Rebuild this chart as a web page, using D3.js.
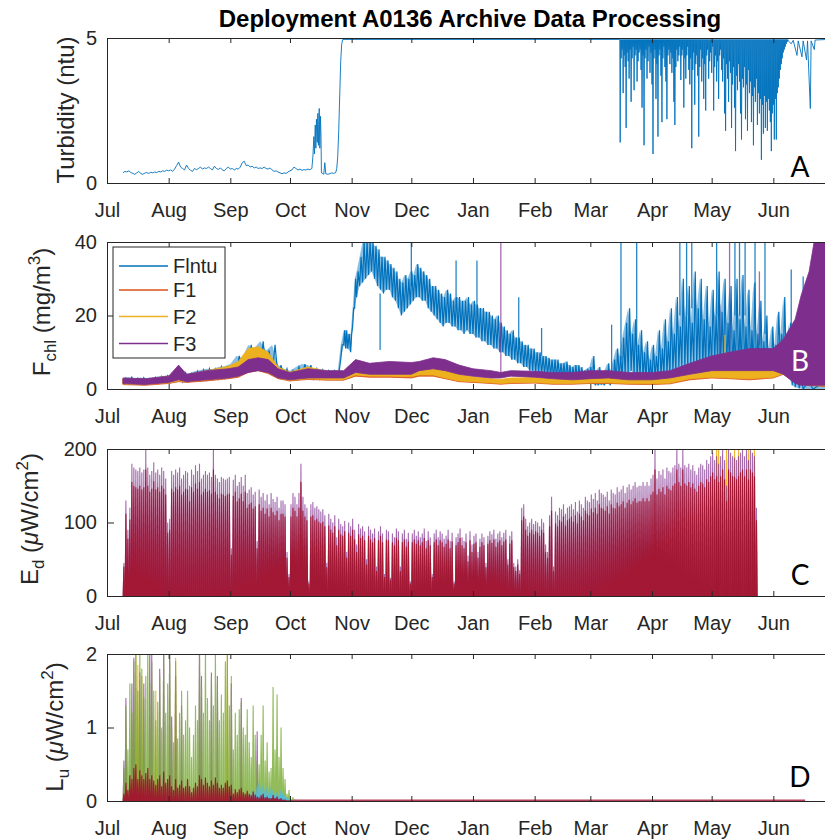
<!DOCTYPE html>
<html>
<head>
<meta charset="utf-8">
<script src="https://cdn.jsdelivr.net/npm/d3@7"></script>
<style>
  body { margin: 0; background: #fff; }
  svg { display: block; font-family: "Liberation Sans", Arial, sans-serif; }
</style>
</head>
<body>
<svg id="chart" width="825" height="840"></svg>
<script>
// Deployment A0136 — 4 stacked time panels, Jul 2016 .. Jul 2017
// all series are in "days since 1 Jul 2016"

// ---- A: turbidity (ntu) ----
const turbEarlyStart = 8;   // daily values, 9 Jul ..
const turbEarly = [
  0.35,0.4,0.38,0.42,0.36,0.33,0.3,0.35,0.4,0.32,
  0.3,0.34,0.36,0.33,0.37,0.35,0.38,0.36,0.4,0.38,
  0.42,0.4,0.44,0.42,0.45,0.4,0.48,0.6,0.72,0.55,
  0.5,0.45,0.62,0.5,0.44,0.4,0.5,0.46,0.5,0.55,
  0.48,0.52,0.5,0.55,0.5,0.45,0.58,0.5,0.47,0.52,
  0.45,0.42,0.5,0.55,0.48,0.5,0.45,0.5,0.48,0.55,
  0.7,0.75,0.6,0.62,0.55,0.58,0.52,0.55,0.5,0.52,
  0.5,0.55,0.5,0.48,0.52,0.45,0.4,0.42,0.38,0.35,
  0.32,0.35,0.33,0.38,0.42,0.45,0.55,0.5,0.45,0.48,
  0.44,0.46,0.45,0.48,0.46,0.5
];
const turbSpike = [[103.5,0.9],[104,1.6],[104.3,1.0],[104.7,2.0],[105,1.2],[105.3,2.2],[105.7,1.4],
  [106,2.4],[106.3,1.3],[106.7,2.57],[107,1.2],[107.3,2.3],[107.6,1.6],[107.8,0.35]];
const turbRise = [[108,0.35],[109,0.3],[109.5,0.7],[110,0.32],[111,0.3],[112,0.32],[113,0.35],[114,0.33],
  [115,0.36],[115.5,0.5],[116,0.9],[116.5,1.8],[117,3.0],[117.5,4.2],[118,4.8],[118.5,4.95],[257.8,4.95]];
const turbSat = 4.95;          // sensor saturation level between dips
const turbDipStart = 258;      // dips every half day
const turbDips = [
  1.4,4.3,4.6,3.1,4.4,4.0,1.9,4.5,4.2,3.6,
  4.6,2.8,4.3,4.7,3.2,4.4,4.6,3.5,4.2,4.5,
  4.6,3.9,2.6,4.4,1.3,4.3,4.6,3.6,4.2,4.7,
  3.8,4.5,3.4,1.0,4.3,4.6,2.9,4.1,1.6,4.4,
  4.6,3.7,2.1,4.3,4.7,4.0,3.5,2.2,4.4,4.6,
  4.1,4.5,3.8,4.3,2.8,2.0,4.0,4.6,4.2,4.4,
  4.7,3.55,4.4,4.6,2.6,4.3,3.6,4.4,4.7,3.9,
  3.4,4.3,1.2,3.9,4.5,2.7,4.1,4.4,3.7,1.6,
  4.0,4.6,3.5,4.3,2.9,4.1,2.5,4.4,4.6,3.6,
  4.2,4.5,3.8,4.7,2.5,4.0,4.4,3.5,4.2,2.9,
  4.4,4.6,3.9,3.5,4.3,2.4,1.8,4.1,3.6,2.8,
  4.2,3.8,1.9,3.4,4.0,2.6,1.1,3.7,3.2,4.1,
  3.5,2.4,1.5,3.6,3.3,4.0,2.2,3.4,1.8,3.9,
  3.1,3.5,2.1,3.0,1.3,3.3,2.8,3.6,2.0,3.1,
  2.4,2.9,0.8,2.7,1.7,3.0,1.9,2.8,1.8,2.9,
  2.5,2.1,1.1,2.4,2.7,1.5,2.9,1.5,3.1,3.3,
  3.6,3.9,4.1,4.3,4.5,4.6,4.7,4.8,4.87
];
const turbTail = [[342.5,4.9],[344,4.8],[345,4.92],[346.9,4.4],[347.5,4.9],[349.4,4.35],[350,4.9],
  [351.7,4.24],[352.2,4.9],[353.6,2.57],[354,4.9],[355.6,4.6],[356,4.93],[362,4.95]];

// ---- B: chlorophyll fluorescence (mg/m3), rows [day, low, high] of the noisy trace ----
const flntuBand = [[8,1.5,3],[11,1.4,3.2],[14,1.5,2.9],[17,1.3,3.1],[20,1.4,2.8],[23,1.5,3.2],[26,1.6,3.4],
  [29,1.7,3.6],[32,1.8,3.9],[35,2.2,5.5],[38,2,4.4],[41,2.1,4.2],[44,2.3,4.8],[47,2.4,5.2],[50,2.5,5.5],
  [53,2.7,5.4],[56,2.8,6],[59,3,6.2],[62,3,6.8],[65,3.5,9],[68,4,8.5],[71,5,12],[74,5.5,11],[77,5.5,13],
  [80,4.5,10.5],[83,4,12],[86,3,6.5],[89,2.5,5.5],[92,2.5,5],[95,2.8,6],[98,3,6.8],[101,3,6.5],
  [104,2.8,5.5],[107,2.8,5.2],[110,2.8,5],[113,2.8,5],[116,2.8,5],[117.5,8,12],[119,12,16],[120,11,16],
  [121,11,15],[122.5,10,15],[123.5,17,22],[124.5,22,30],[125.5,25,32],[127,28,36],[128.5,29,40],
  [130,30,40],[131.5,31,40],[133,32,40],[134.5,30,39],[136,28,38],[137.5,27,36],[139,26,36],
  [140.5,27,35],[142,27,34],[143.5,25,33],[145,24,32],[146.5,22,30],[148,20,29],[149.5,21,31],
  [151,22,30],[152.5,23,32],[154,24,31],[155.5,25,34],[157,25,33],[158.5,24,32],[160,24,31],
  [161.5,22,30],[163,21,28],[164.5,20,28],[166,19,27],[167.5,18,26],[169,17,25],[170.5,18,27],
  [172,18,26],[173.5,17,24],[175,17,25],[176.5,16,25],[178,16,24],[179.5,15,24],[181,16,25],
  [182.5,15,23],[184,15,24],[185.5,14,23],[187,14,22],[188.5,13,22],[190,13,21],[191.5,12,21],
  [193,12,20],[194.5,11,19],[196,11,20],[197.5,10,18],[199,10,17],[200.5,9,16],[202,9,15],
  [203.5,8,16],[205,8,14],[206.5,7,14],[208,7,13],[209.5,6,12],[211,6,12],[212.5,5,11],[214,5,11],
  [215.5,4.5,10],[217,4.5,10],[218.5,4,9],[220,4,9],[221.5,3.5,8.5],[223,3.5,8],[224.5,3,8],
  [226,3,8],[227.5,3,7],[229,3,7],[230.5,2.5,7.5],[232,2.5,6.5],[233.5,2.5,6],[235,2.5,6.5],
  [236.5,2,6.5],[238,2,6],[239.5,2,5],[241,2,5.5],[242.5,1.5,6],[244,1.5,9],[245.5,1,4.5],[247,1,6],
  [248.5,1.2,4],[250,1,5],[251.5,1.5,7],[253,1,5],[254.5,2,8],[256,2,11],[257.5,3,9],[259,3,14],
  [260.5,4,18],[262,4,22],[263.5,5,15],[265,4,19],[266.5,3,12],[268,3,16],[269.5,2.5,10],[271,2.5,13],
  [272.5,2,8],[274,2,12],[275.5,3,9],[277,3,16],[278.5,3.5,11],[280,3.5,19],[281.5,4,13],[283,4,22],
  [284.5,5,15],[286,5,25],[287.5,6,17],[289,6,30],[290.5,6,20],[292,6,28],[293.5,7,18],[295,7,32],
  [296.5,6,22],[298,6,30],[299.5,5,19],[301,5,28],[302.5,6,17],[304,6,27],[305.5,7,20],[307,7,32],
  [308.5,6,21],[310,6,30],[311.5,5,18],[313,5,28],[314.5,5,16],[316,5,30],[317.5,4,19],[319,4,31],
  [320.5,4,17],[322,4,27],[323.5,5,16],[325,5,29],[326.5,4,15],[328,4,24],[329.5,3,13],[331,3,20],
  [332.5,4,11],[334,4,17],[335.5,5,12],[337,6,21],[338.5,8,15],[340,7,25],[341.5,5,14],[343,3,18],
  [344.5,1,8],[346,0.5,6],[348,0.2,3],[350,0,2],[355,0,1.5],[364,0,1]];
const flntuSpikes = [[137.3,26,10.6],[153,28,40],[175.5,22,35],[186,20,35],[207,12,25],[218.5,9,16.6],
  [253.7,4,17.5],[258.4,8,40],[266.3,10,40],[288,20,40],[291.4,20,40],[294,22,40],[306.5,20,40],
  [315.7,20,40],[318,20,40],[320.8,20,40],[325.8,20,40],[330.8,15,40],[344,10,32.5],[350,2,30.6]];
const f1Band = [[8,1.2,2.6],[19,1.0,2.4],[31,1.5,3.2],[36,2,5],[40,1.8,3.5],[50,2.2,4.6],[61,2.8,5.5],
  [66,3.2,6.5],[71,4.5,9.5],[76,5,10],[81,4.2,9],[86,2.8,5.5],[92,2.2,4.2],[101,2.6,5.5],[111,2.4,4.4],
  [119,2.4,4.4],[125,3.5,7],[132,3.2,6],[142,3.2,6.2],[153,3.0,5.8],[157,3.5,6.2],[164,3.5,5.8],
  [170,2.8,4.8],[177,2.0,3.6],[184,1.8,3.0],[193,1.5,2.5],[198,1.3,2.3],[203,1.5,2.8],[215,1.6,2.8],
  [224,1.3,2.4],[234,1.3,2.5],[243,1.5,3.2],[252,1.5,3.0],[262,1.3,2.6],[274,1.2,2.4],[283,1.4,2.8],
  [293,2.5,5.5],[304,3.0,6],[313,2.8,5.5],[323,2.5,5.5],[335,3.0,6.5],[340,4,7],[346,2,4],[352,1,2.5],
  [364,0.6,1.8]];
const f2Band = [[8,1.4,2.8],[19,1.2,2.6],[31,1.7,3.5],[36,2.2,5.5],[40,2,3.8],[50,2.5,5],[61,3,6.2],
  [66,3.5,7.5],[71,5,11],[76,5.5,11.5],[81,4.5,10],[86,3,6],[92,2.4,4.6],[101,2.8,6],[111,2.6,4.8],
  [119,2.6,4.8],[125,3.8,7.8],[132,3.5,6.5],[142,3.5,6.8],[153,3.3,6.2],[157,3.8,6.6],[164,3.8,6.2],
  [170,3.0,5.2],[177,2.2,4.0],[184,2.0,3.3],[193,1.7,2.8],[198,1.5,2.6],[203,1.7,3.0],[215,1.8,3.1],
  [224,1.5,2.7],[234,1.5,2.8],[243,1.7,3.6],[252,1.7,3.3],[262,1.5,2.9],[274,1.4,2.7],[283,1.6,3.1],
  [293,2.8,6],[304,3.2,6.5],[313,3.0,6.0],[323,2.8,6.0],[335,3.2,7],[340,4.2,7.5],[346,2.2,4.5],
  [352,1.2,2.8],[364,0.8,2.0]];
const f2Spikes = [[310.7,6,14.7]];
const f3Band = [[8,1.5,3],[19,1.2,2.8],[31,1.8,3.5],[36,2.5,6.5],[40,2,4],[50,2.5,5],[61,3,5.5],[66,3.5,6],
  [71,4.5,8],[76,5,8.5],[81,4.5,8],[86,3,5.5],[92,2.5,4.5],[101,3,5.5],[111,3,5],[119,3,5],[125,4.5,8],
  [132,4,7],[142,4,7.5],[153,4,7.2],[157,5,7.5],[164,5.5,8.5],[170,5,8],[177,4,6.5],[184,3.5,5.5],
  [193,3,5],[198,3,4.5],[203,3.5,5],[215,3.2,4.8],[224,2.8,4.5],[234,2.5,4.5],[243,2.8,5],[252,3,5],
  [262,2.5,4.5],[274,2.5,4.5],[283,3,5],[293,4,7],[304,5,9],[313,5,10],[323,5,11],[335,5,11],
  [340,4,13.5],[346,1.5,19],[349,1,25.5],[353,1,32],[355.5,1,40],[364,1,40]];
const f3Spikes = [[198,4,40],[308,9,23],[313,10,40],[328,12,32]];

// ---- C: downwelling irradiance Ed, daily peaks from 9 Jul ----
const edStart = 8;
const edTop = [
  45,130,90,120,180,175,172,170,175,168,
  172,200,175,165,170,182,168,172,165,175,
  170,160,100,105,170,165,172,168,175,160,
  165,170,168,150,172,165,178,170,180,160,
  165,170,165,168,162,200,165,160,155,162,
  160,158,160,162,65,158,165,150,155,162,
  150,165,140,145,148,138,142,75,145,135,
  140,130,138,125,140,132,128,135,120,130,
  130,125,60,30,125,140,135,125,140,180,
  135,125,120,20,125,128,120,122,118,115,
  118,110,45,112,105,100,110,80,105,98,
  95,102,60,100,95,105,90,70,98,92,
  95,88,50,95,90,85,92,40,88,95,
  85,30,90,88,25,85,80,92,88,40,
  85,90,78,86,20,85,90,82,88,80,
  85,92,75,88,80,30,85,90,80,88,
  85,78,82,90,75,86,20,80,85,92,
  80,75,85,55,88,70,82,85,60,78,
  85,80,45,82,88,84,90,78,85,88,
  80,86,90,50,82,88,45,40,50,35,
  120,125,105,95,100,105,98,102,100,95,
  105,100,70,60,110,135,40,115,110,120,
  118,125,112,120,122,125,118,128,115,130,
  125,120,135,130,128,138,132,140,130,145,
  140,138,135,142,130,145,140,138,148,142,
  145,150,140,148,152,145,150,155,148,150,
  150,155,150,155,150,160,165,200,160,170,
  165,172,160,175,170,168,175,178,200,180,
  175,200,178,175,180,172,178,170,165,175,
  180,178,172,185,180,190,195,185,190,180,
  190,200,185,150,200,195,190,188,185,190,
  195,200,190,200,185,200,195,190,120
];
const edRed = [
  40,112,78,104,155,150,148,146,150,145,
  148,172,150,142,146,156,145,148,142,150,
  146,138,86,90,146,142,148,145,150,138,
  142,146,145,129,148,142,153,146,155,138,
  142,146,142,144,139,172,142,138,133,139,
  138,136,138,139,56,136,142,129,133,139,
  129,142,120,125,127,119,122,65,125,116,
  120,112,119,108,120,114,110,116,103,112,
  112,108,52,26,108,120,116,108,120,155,
  116,108,103,17,108,110,103,105,101,99,
  101,95,39,96,90,86,95,69,90,84,
  82,88,52,86,82,90,77,60,84,79,
  82,76,43,82,77,73,79,34,76,82,
  73,26,77,76,22,73,69,79,76,34,
  73,77,67,74,17,73,77,71,76,69,
  73,79,65,76,69,26,73,77,69,76,
  73,67,71,77,65,74,17,69,73,79,
  69,65,73,47,76,60,71,73,52,67,
  73,69,39,71,76,72,77,67,73,76,
  69,74,77,43,71,76,39,34,43,30,
  103,108,90,82,86,90,84,88,86,82,
  90,86,60,52,95,116,34,99,95,103,
  101,108,96,103,105,108,101,110,99,112,
  108,103,116,112,110,119,114,120,112,125,
  120,119,116,122,112,125,120,119,127,122,
  125,129,120,127,131,125,129,133,127,129,
  129,133,129,133,129,138,142,172,138,146,
  142,148,138,150,146,144,150,153,172,155,
  150,172,153,150,155,148,153,146,142,150,
  155,153,148,159,155,163,168,159,163,155,
  163,172,159,129,172,168,163,162,159,163,
  168,172,163,172,159,172,168,163,103
];
const edYellow = [[306,215],[307,212],[311,210],[315,215],[317,212],[322,215],[325,210]];

// ---- D: upwelling radiance Lu, daily peaks from 9 Jul ----
const luStart = 8;
const luGreen = [
  0.45,1.3,0.7,1.6,1.2,1.9,2.1,1.5,2.1,1.8,
  1.4,1.7,2.1,1.6,1.9,1.5,1.1,1.35,1.7,1.0,
  2.1,1.2,1.6,2.1,1.0,0.8,1.9,0.85,1.2,1.5,
  0.9,1.1,1.5,1.0,0.6,0.9,1.3,1.1,2.1,1.6,
  1.2,2.1,1.4,1.1,1.7,1.3,2.1,1.6,1.1,1.45,
  1.2,1.9,2.0,1.3,1.7,0.7,1.2,0.9,1.25,1.35,
  1.0,0.9,1.25,0.8,0.6,1.3,0.9,0.55,0.5,0.9,
  1.3,0.55,0.8,0.4,0.45,1.55,0.7,1.45,0.6,1.0,
  0.45,0.3,0.1,0.15,0.03,0.05,0.02
];
const luRed = [
  0.1,0.25,0.15,0.35,0.3,0.45,0.5,0.3,0.42,0.35,
  0.3,0.38,0.45,0.3,0.35,0.28,0.22,0.3,0.35,0.2,
  0.4,0.25,0.3,0.35,0.2,0.15,0.3,0.18,0.22,0.28,
  0.18,0.2,0.3,0.2,0.12,0.18,0.25,0.2,0.35,0.3,
  0.22,0.32,0.25,0.2,0.28,0.22,0.32,0.25,0.18,0.22,
  0.18,0.25,0.28,0.2,0.22,0.1,0.16,0.12,0.16,0.18,
  0.12,0.1,0.14,0.1,0.08,0.13,0.09,0.06,0.05,0.08,
  0.1,0.05,0.06,0.04,0.04,0.08,0.04,0.06,0.03,0.04,
  0.02,0.02,0.01,0.01,0.01,0.01,0.01
];
const luPurple = [[8,0.55],[9,1.4],[12,1.6],[13,1.95],[16,1.75],[18,1.6],[21,2.1],[22,2.0],[26,1.8],
  [28,2.1],[31,2.1],[32,1.15],[34,1.7],[37,1.3],[46,2.1],[47,1.7],[52,1.75],[55,1.7],[62,1.6],
  [67,1.4],[75,0.95]];
const luYellow = [[14,2.1],[15,1.85],[17,1.7],[24,1.5],[34,1.95],[60,2.05]];
const luCyanStart = 72;
const luCyan = [0.1,0.15,0.12,0.2,0.25,0.18,0.22,0.15,0.2,0.12,0.18,0.15,0.1,0.12,0.08,0.15,0.12,0.08,0.05,0.03,0.02];
const luFlat = [[94,0.01],[351,0.01]];

const monthFmt = d3.utcFormat("%b");
const C = { blue: "#0072BD", orange: "#D95319", yellow: "#EDB120", purple: "#7E2F8E",
            green: "#77AC30", cyan: "#4DBEEE", red: "#A2142F", axis: "#262626" };

// ---------------------------------------------------------------
const T0 = Date.UTC(2016, 6, 1);
const at = d => new Date(T0 + d * 864e5);
const xEnd = new Date(Date.UTC(2017, 6, 1));
const x = d3.scaleUtc().domain([at(0), xEnd]).range([107, 833]);
const svg = d3.select("#chart");

const panels = [
  { top: 38,  bottom: 183, max: 5,   ticks: [0, 5] },
  { top: 242, bottom: 389, max: 40,  ticks: [0, 20, 40] },
  { top: 449, bottom: 596, max: 200, ticks: [0, 100, 200] },
  { top: 654, bottom: 801, max: 2,   ticks: [0, 1, 2] }
];
panels.forEach((p, i) => {
  p.y = d3.scaleLinear().domain([0, p.max]).range([p.bottom, p.top]);
  svg.append("clipPath").attr("id", "clip" + i).append("rect")
    .attr("x", 107).attr("y", p.top).attr("width", 726).attr("height", p.bottom - p.top);
  p.g = svg.append("g").attr("clip-path", `url(#clip${i})`);
});

// ---- A ----
{
  const p = panels[0];
  const pts = turbEarly.map((v, i) => [turbEarlyStart + i, v])
    .concat(turbSpike, turbRise);
  turbDips.forEach((v, i) => {
    pts.push([turbDipStart + i * 0.5, v]);
    pts.push([turbDipStart + i * 0.5 + 0.25, turbSat]);
  });
  pts.push(...turbTail);
  p.g.append("path")
    .attr("d", d3.line().x(d => x(at(d[0]))).y(d => p.y(d[1]))(pts))
    .attr("fill", "none").attr("stroke", C.blue).attr("stroke-width", 0.9)
    .attr("stroke-linejoin", "round");
}

// ---- B ----
{
  const p = panels[1];
  const area = d3.area().x(d => x(at(d[0]))).y0(d => p.y(d[1])).y1(d => p.y(d[2]));
  const band = (rows, col) => p.g.append("path").attr("d", area(rows))
    .attr("fill", col).attr("stroke", col).attr("stroke-width", 0.8);
  // noisy trace: low at each row, high half way to the next row
  const noisy = (rows, col) => {
    p.g.append("path").attr("d", area(rows)).attr("fill", col).attr("opacity", 0.45);
    const pts = [];
    rows.forEach((r, i) => {
      const nx = i < rows.length - 1 ? rows[i + 1][0] : r[0] + 1;
      pts.push([r[0], r[1]], [(r[0] + nx) / 2, r[2]]);
    });
    p.g.append("path").attr("d", d3.line().x(d => x(at(d[0]))).y(d => p.y(d[1]))(pts))
      .attr("fill", "none").attr("stroke", col).attr("stroke-width", 1.2);
  };
  const spikes = (rows, col, op) => p.g.selectAll(null).data(rows).join("line")
    .attr("x1", d => x(at(d[0]))).attr("x2", d => x(at(d[0])))
    .attr("y1", d => p.y(d[1])).attr("y2", d => p.y(d[2]))
    .attr("stroke", col).attr("stroke-width", 1.3).attr("opacity", op);
  noisy(flntuBand, C.blue);
  spikes(flntuSpikes, C.blue, 0.85);
  band(f1Band, C.orange);
  band(f2Band, C.yellow);
  spikes(f2Spikes, C.yellow, 0.9);
  band(f3Band, C.purple);
  spikes(f3Spikes, C.purple, 0.7);
}

// daily hump drawn as a narrow trapezoid
function hump(xp, y0, y1) {
  return `M${xp - 1.3},${y0}L${xp - 0.55},${y1}L${xp + 0.55},${y1}L${xp + 1.3},${y0}Z`;
}

// ---- C ----
{
  const p = panels[2];
  const y0 = p.y(0);
  const draw = (rows, col, op) => p.g.append("g").attr("opacity", op)
    .selectAll("path").data(rows).join("path")
    .attr("d", d => hump(x(at(d[0] + 0.5)), y0, p.y(d[1])))
    .attr("fill", col);
  draw(edYellow, C.yellow, 0.9);
  draw(edTop.map((v, i) => [edStart + i, v]), C.purple, 0.7);
  draw(edRed.map((v, i) => [edStart + i, v]), C.red, 0.95);
}

// ---- D ----
{
  const p = panels[3];
  const y0 = p.y(0);
  const draw = (rows, col, op) => p.g.append("g").attr("opacity", op)
    .selectAll("path").data(rows).join("path")
    .attr("d", d => hump(x(at(d[0] + 0.5)), y0, p.y(d[1])))
    .attr("fill", col);
  draw(luYellow, C.yellow, 0.8);
  draw(luPurple, C.purple, 0.7);
  draw(luGreen.map((v, i) => [luStart + i, v]), C.green, 0.8);
  draw(luCyan.map((v, i) => [luCyanStart + i, v]), C.cyan, 0.9);
  draw(luRed.map((v, i) => [luStart + i, v]), C.red, 0.95);
  p.g.append("path")
    .attr("d", d3.line().x(d => x(at(d[0]))).y(d => p.y(d[1]))(luFlat))
    .attr("stroke", "#b8405a").attr("stroke-width", 1.6).attr("fill", "none");
}

// ---- axes (box with inward ticks) ----
const months = d3.utcMonth.range(at(0), xEnd);
panels.forEach(p => {
  const g = svg.append("g");
  g.append("g").attr("transform", `translate(0,${p.bottom})`)
    .call(d3.axisBottom(x).tickValues(months).tickFormat(monthFmt)
      .tickSizeInner(-5).tickSizeOuter(0).tickPadding(20));
  g.append("g").attr("transform", `translate(0,${p.top})`)
    .call(d3.axisTop(x).tickValues(months).tickFormat("")
      .tickSizeInner(-5).tickSizeOuter(0));
  g.append("g").attr("transform", "translate(107,0)")
    .call(d3.axisLeft(p.y).tickValues(p.ticks).tickFormat(d3.format("d"))
      .tickSizeInner(-7).tickSizeOuter(0).tickPadding(10));
  g.append("g").attr("transform", "translate(833,0)")
    .call(d3.axisRight(p.y).tickValues(p.ticks).tickFormat("").tickSizeInner(-7).tickSizeOuter(0));
  g.selectAll(".domain, .tick line").attr("stroke", C.axis).attr("stroke-width", 1);
  g.selectAll(".tick text").attr("fill", C.axis)
    .style("font-size", "20px").style("font-family", '"Liberation Sans", Arial, sans-serif');
});

// ---- y labels ----
function ylabel(cx, cy, parts) {
  const t = svg.append("text")
    .attr("transform", `translate(${cx},${cy}) rotate(-90)`)
    .attr("text-anchor", "middle").attr("fill", C.axis).style("font-size", "24px");
  let shift = 0;
  parts.forEach(([s, kind]) => {
    const ts = t.append("tspan").text(s);
    let want = 0;
    if (kind === "sub") { want = 6; ts.style("font-size", "17px"); }
    if (kind === "sup") { want = -10; ts.style("font-size", "17px"); }
    if (kind === "it") ts.style("font-style", "italic");
    if (want !== shift) { ts.attr("dy", want - shift); shift = want; }
  });
}
ylabel(74, 110, [["Turbidity (ntu)"]]);
ylabel(50, 312, [["F"], ["chl", "sub"], [" (mg/m"], ["3", "sup"], [")"]]);
ylabel(38, 519, [["E"], ["d", "sub"], [" ("], ["\u03bc", "it"], ["W/cm"], ["2", "sup"], [")"]]);
ylabel(63, 727, [["L"], ["u", "sub"], [" ("], ["\u03bc", "it"], ["W/cm"], ["2", "sup"], [")"]]);

// ---- legend (panel B) ----
{
  const lg = svg.append("g");
  lg.append("rect").attr("x", 113).attr("y", 247).attr("width", 112).attr("height", 111)
    .attr("fill", "#fff").attr("stroke", C.axis).attr("stroke-width", 1);
  const items = [["Flntu", C.blue], ["F1", C.orange], ["F2", C.yellow], ["F3", C.purple]];
  const ly = [266, 290, 316.5, 343.5];
  items.forEach(([name, col], i) => {
    lg.append("line").attr("x1", 119).attr("x2", 168).attr("y1", ly[i]).attr("y2", ly[i])
      .attr("stroke", col).attr("stroke-width", 1.5);
    lg.append("text").attr("x", 173).attr("y", ly[i]).attr("dy", "0.35em")
      .attr("fill", C.axis).style("font-size", "20px").text(name);
  });
}

// ---- title and panel letters ----
svg.append("text").attr("x", 470).attr("y", 27).attr("text-anchor", "middle")
  .style("font-size", "24px").style("font-weight", "bold").attr("fill", "#000")
  .text("Deployment A0136 Archive Data Processing");

const letters = [["A", 177, "#000"], ["B", 371, "#fff"], ["C", 585, "#000"], ["D", 787, "#000"]];
letters.forEach(([s, yb, col]) => {
  svg.append("text").attr("x", 800).attr("y", yb).attr("text-anchor", "middle")
    .style("font-family", "Lato, 'Open Sans', sans-serif").style("font-size", "28px")
    .attr("fill", col).text(s);
});
</script>
</body>
</html>
